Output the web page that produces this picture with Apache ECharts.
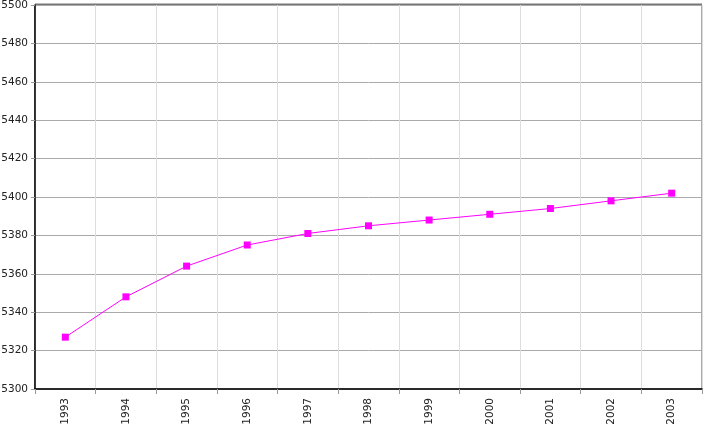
<!DOCTYPE html>
<html>
<head>
<meta charset="utf-8">
<script src="https://cdn.jsdelivr.net/npm/echarts@6/dist/echarts.min.js"></script>
<style>
  html, body { margin: 0; padding: 0; background: #fff; }
  #chart { width: 703px; height: 426px; }
</style>
</head>
<body>
<div id="chart"></div>
<script>
var myChart = echarts.init(document.getElementById('chart'));

// population (thousands) by year
let years = ['1993','1994','1995','1996','1997','1998','1999','2000','2001','2002','2003'],
    population = [5327, 5348, 5364, 5375, 5381, 5385, 5388, 5391, 5394, 5398, 5402];

let yMin = 5300, yMax = 5500, yStep = 20;

var option = {
  animation: false,
  grid: {
    left: 35, right: 1, top: 5, bottom: 37,
    containLabel: false,
    outerBoundsMode: 'none',
    show: true,
    borderColor: '#555',
    borderWidth: 1
  },
  xAxis: {
    type: 'category',
    data: years,
    boundaryGap: true,
    axisLine: { lineStyle: { color: '#000', width: 1.5 } },
    axisTick: { show: true, length: 5, lineStyle: { color: '#999' } },
    axisLabel: {
      rotate: 90,
      margin: 9,
      color: '#222',
      fontFamily: 'DejaVu Sans',
      fontSize: 10.5
    },
    splitLine: { show: true, lineStyle: { color: '#ddd' } }
  },
  yAxis: {
    type: 'value',
    min: yMin, max: yMax, interval: yStep,
    axisLine: { show: true, lineStyle: { color: '#000', width: 1.5 } },
    axisTick: { show: true, length: 4, lineStyle: { color: '#999' } },
    axisLabel: {
      margin: 7,
      color: '#222',
      fontFamily: 'DejaVu Sans',
      fontSize: 10.5,
      formatter: function (v) { return String(v); }
    },
    splitLine: { lineStyle: { color: '#aaa' } }
  },
  series: [{
    type: 'line',
    data: population,
    symbol: 'rect',
    symbolSize: 7,
    itemStyle: { color: '#ff00ff' },
    lineStyle: { color: '#ff00ff', width: 1 }
  }],
  graphic: [{
    type: 'line',
    shape: { x1: 35, y1: 4.5, x2: 702, y2: 4.5 },
    style: { stroke: '#777', lineWidth: 2 }
  }]
};
myChart.setOption(option);
</script>
</body>
</html>
